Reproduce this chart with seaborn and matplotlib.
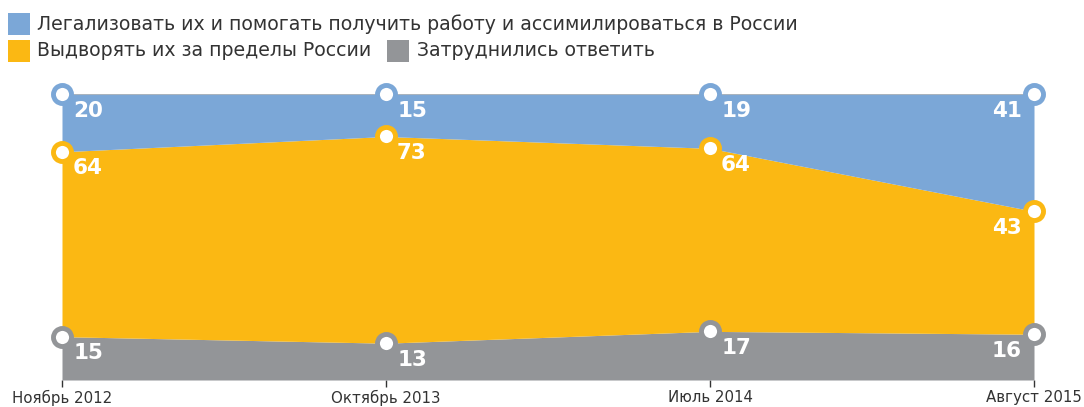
import numpy as np
import matplotlib
matplotlib.use("Agg")
import matplotlib.pyplot as plt
import seaborn as sns
from matplotlib.patches import Rectangle

# данные опроса
periods = ["Ноябрь 2012", "Октябрь 2013", "Июль 2014", "Август 2015"]
legalize = [20, 15, 19, 41]
expel = [64, 73, 64, 43]
undecided = [15, 13, 17, 16]

series_names = [
    "Легализовать их и помогать получить работу и ассимилироваться в России",
    "Выдворять их за пределы России",
    "Затруднились ответить",
]
c_blue = "#7ba7d7"
c_orange = "#fbb813"
c_gray = "#939598"
c_text = "#333333"

sns.set_theme(style="white")
plt.rcParams["font.family"] = ["DejaVu Sans"]

W, H = 1084, 407
fig = plt.figure(figsize=(W / 100, H / 100), dpi=100)
ax = fig.add_axes([62 / W, 1 - 380 / H, (1034 - 62) / W, (380 - 94) / H])

x = np.arange(len(periods))
raw = np.array([undecided, expel, legalize], dtype=float)
share = raw / raw.sum(axis=0) * 100
tops = np.cumsum(share, axis=0)

ax.stackplot(x, share, colors=[c_gray, c_orange, c_blue], linewidth=0)
# тонкая линия по верхнему краю
ax.plot(x, tops[-1], color="#a9b3bd", linewidth=0.8, zorder=3)

for layer, vals, col in zip(tops, [undecided, expel, legalize], [c_gray, c_orange, c_blue]):
    ax.plot(x, layer, linestyle="none", marker="o", markersize=13,
            markerfacecolor="white", markeredgecolor=col, markeredgewidth=3.5,
            clip_on=False, zorder=5)
    for i, v in enumerate(vals):
        last = i == len(vals) - 1
        ax.annotate(str(v), (x[i], layer[i]),
                    xytext=(-9 if last else 8, -12), textcoords="offset points",
                    ha="right" if last else "left", va="center",
                    color="white", fontsize=15.5, fontweight="bold", zorder=6)

ax.set_xlim(0, len(periods) - 1)
ax.set_ylim(0, 100)
ax.set_yticks([])
ax.set_xticks(x)
ax.set_xticklabels(periods, fontsize=10.8, color=c_text)
ax.tick_params(axis="x", direction="out", length=5, width=1, color=c_text, pad=2, bottom=True)
for s in ax.spines.values():
    s.set_visible(False)

# легенда вручную
legend_items = [
    (8, 13, c_blue, 37, 24, series_names[0]),
    (8, 40, c_orange, 37, 51, series_names[1]),
    (387, 40, c_gray, 417, 51, series_names[2]),
]
for sx, sy, col, tx, ty, label in legend_items:
    fig.patches.append(Rectangle((sx / W, 1 - (sy + 22) / H), 22 / W, 22 / H,
                                 transform=fig.transFigure, facecolor=col, edgecolor="none"))
    fig.text(tx / W, 1 - ty / H, label, ha="left", va="center", fontsize=13.6, color=c_text)

fig.savefig("out.png", dpi=100)
